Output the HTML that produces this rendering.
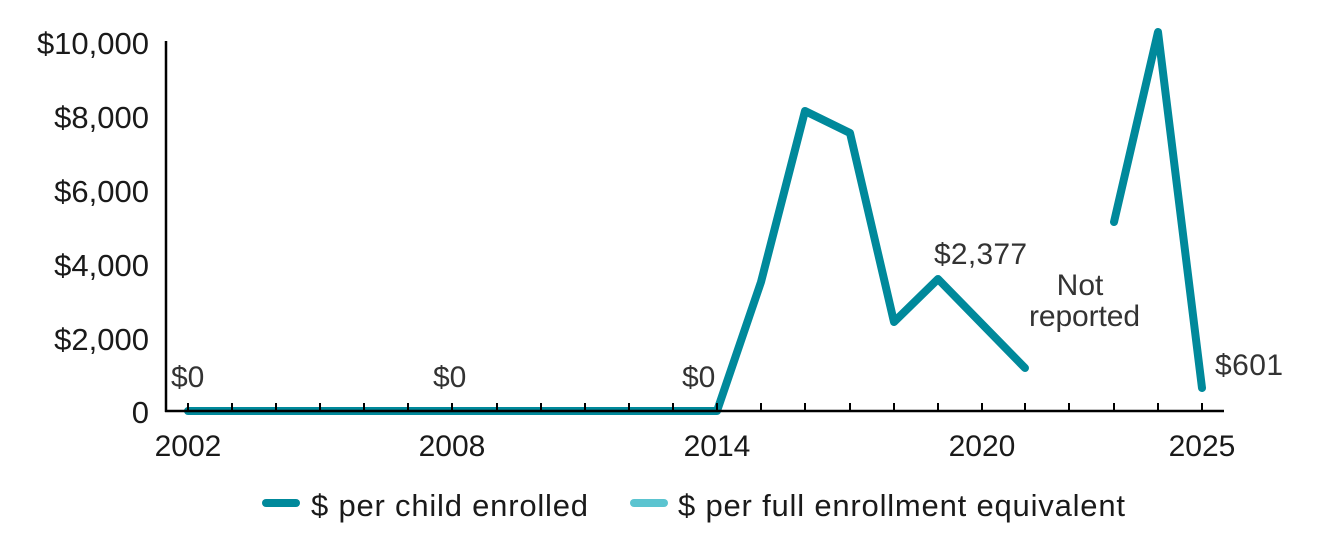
<!DOCTYPE html>
<html>
<head>
<meta charset="utf-8">
<style>
  html, body { margin:0; padding:0; background:#fff; }
  svg { display:block; }
  text { font-family: "Liberation Sans", sans-serif; }
</style>
</head>
<body>
<svg width="1334" height="541" viewBox="0 0 1334 541" xmlns="http://www.w3.org/2000/svg">
  <!-- Y axis labels -->
  <g font-size="31" fill="#1a1a1a" text-anchor="end">
    <text x="149" y="54">$10,000</text>
    <text x="149" y="128">$8,000</text>
    <text x="149" y="202">$6,000</text>
    <text x="149" y="276">$4,000</text>
    <text x="149" y="350">$2,000</text>
    <text x="149" y="423">0</text>
  </g>
  <!-- X axis labels -->
  <g font-size="30" fill="#1a1a1a" text-anchor="middle">
    <text x="188" y="456">2002</text>
    <text x="452" y="456">2008</text>
    <text x="717" y="456">2014</text>
    <text x="982" y="456">2020</text>
    <text x="1202" y="456">2025</text>
  </g>
  <!-- Series line -->
  <g fill="none" stroke="#00899b" stroke-width="8" stroke-linecap="round" stroke-linejoin="round">
    <path d="M188,411 L717,411 L761,282 L805,111 L850,133 L894,322 L938,279 L1025,368"/>
    <path d="M1114,222 L1158,32 L1202,388"/>
  </g>
  <!-- Axes -->
  <g stroke="#000" stroke-width="2.5" fill="none">
    <line x1="166" y1="41" x2="166" y2="412"/>
    <line x1="165" y1="411" x2="1224" y2="411"/>
  </g>
  <g stroke="#000" stroke-width="2">
    <line x1="188" y1="403" x2="188" y2="411"/>
    <line x1="232" y1="403" x2="232" y2="411"/>
    <line x1="276" y1="403" x2="276" y2="411"/>
    <line x1="320" y1="403" x2="320" y2="411"/>
    <line x1="364" y1="403" x2="364" y2="411"/>
    <line x1="408" y1="403" x2="408" y2="411"/>
    <line x1="452" y1="403" x2="452" y2="411"/>
    <line x1="497" y1="403" x2="497" y2="411"/>
    <line x1="541" y1="403" x2="541" y2="411"/>
    <line x1="585" y1="403" x2="585" y2="411"/>
    <line x1="629" y1="403" x2="629" y2="411"/>
    <line x1="673" y1="403" x2="673" y2="411"/>
    <line x1="717" y1="403" x2="717" y2="411"/>
    <line x1="761" y1="403" x2="761" y2="411"/>
    <line x1="805" y1="403" x2="805" y2="411"/>
    <line x1="850" y1="403" x2="850" y2="411"/>
    <line x1="894" y1="403" x2="894" y2="411"/>
    <line x1="938" y1="403" x2="938" y2="411"/>
    <line x1="982" y1="403" x2="982" y2="411"/>
    <line x1="1025" y1="403" x2="1025" y2="411"/>
    <line x1="1069" y1="403" x2="1069" y2="411"/>
    <line x1="1114" y1="403" x2="1114" y2="411"/>
    <line x1="1158" y1="403" x2="1158" y2="411"/>
    <line x1="1202" y1="403" x2="1202" y2="411"/>
  </g>
  <!-- Data labels -->
  <g font-size="30" fill="#333">
    <text x="171" y="387">$0</text>
    <text x="433" y="387">$0</text>
    <text x="682" y="387">$0</text>
    <text x="934" y="264" textLength="93">$2,377</text>
    <text x="1080" y="295" text-anchor="middle">Not</text>
    <text x="1029" y="326" textLength="111">reported</text>
    <text x="1215" y="375" textLength="68">$601</text>
  </g>
  <!-- Legend -->
  <line x1="266" y1="503" x2="296" y2="503" stroke="#00899b" stroke-width="8" stroke-linecap="round"/>
  <text x="311" y="516" font-size="31" fill="#1a1a1a" textLength="277">$ per child enrolled</text>
  <line x1="634" y1="503" x2="664" y2="503" stroke="#5bc4d0" stroke-width="8" stroke-linecap="round"/>
  <text x="678" y="516" font-size="31" fill="#1a1a1a" textLength="447">$ per full enrollment equivalent</text>
</svg>
</body>
</html>
